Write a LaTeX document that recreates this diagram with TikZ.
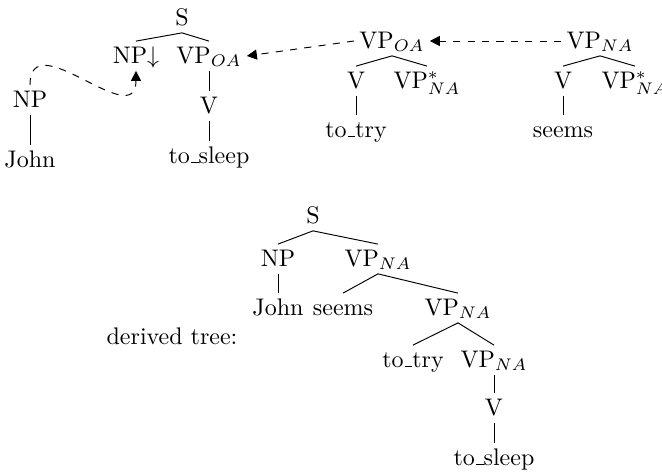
\documentclass[tikz,border=0pt]{standalone}
\usetikzlibrary{arrows.meta}
\newcommand{\usc}{\leavevmode\kern.06em\vbox{\hrule width.3em}}
\begin{document}
\begin{tikzpicture}[x=0.4167pt,y=-0.4167pt,
  lbl/.style={inner sep=2pt, text height=7pt, text depth=1pt},
  subst/.style={dashed, -{Triangle[length=4.2pt,width=4.2pt]}}]
\useasboundingbox (0,0) rectangle (662,473);
\node[lbl] (s0) at (182,18){S};
\node[lbl] (npd) at (136,56){NP$\downarrow$};
\node[lbl] (vpoa0) at (209,56){VP$_{OA}$};
\node[lbl] (v0) at (209,106){V};
\node[lbl] (sleep0) at (209,156){to\usc sleep};
\draw[](s0.south) -- (npd.north);
\draw[](s0.south) -- (vpoa0.north);
\draw[](vpoa0.south) -- (v0.north);
\draw[](v0.south) -- (sleep0.north);
\node[lbl] (np0) at (30,100){NP};
\node[lbl] (john0) at (30,160){John};
\draw[](np0.south) -- (john0.north);
\node[lbl] (vpoa1) at (392,41){VP$_{OA}$};
\node[lbl] (v1) at (356,81){V};
\node[lbl] (vpf1) at (427,81){VP$^*_{NA}$};
\node[lbl] (try1) at (356,130){to\usc try};
\draw[](vpoa1.south) -- (v1.north);
\draw[](vpoa1.south) -- (vpf1.north);
\draw[](v1.south) -- (try1.north);
\node[lbl] (vpna2) at (600,41){VP$_{NA}$};
\node[lbl] (v2) at (563,81){V};
\node[lbl] (vpf2) at (635,81){VP$^*_{NA}$};
\node[lbl] (seems2) at (563,130){seems};
\draw[](vpna2.south) -- (v2.north);
\draw[](vpna2.south) -- (vpf2.north);
\draw[](v2.south) -- (seems2.north);
\draw[subst](np0.north) to[out=90, in=-90, looseness=1.5] (npd.south);
\draw[subst](vpoa1.west) -- (vpoa0.east);
\draw[subst](vpna2.west) -- (vpoa1.east);

\node[lbl] (s3) at (313,216){S};
\node[lbl] (np3) at (278,259){NP};
\node[lbl] (vpna3) at (378,259){VP$_{NA}$};
\node[lbl] (john3) at (278,308){John};
\node[lbl] (seems3) at (343,308){seems};
\node[lbl] (vpna4) at (458,308){VP$_{NA}$};
\node[lbl] (try4) at (413,360){to\usc try};
\node[lbl] (vpna5) at (494,360){VP$_{NA}$};
\node[lbl] (v5) at (494,408){V};
\node[lbl] (sleep5) at (494,458){to\usc sleep};
\node[lbl] (derived) at (172,337){derived tree:};
\draw[](s3.south) -- (np3.north);
\draw[](s3.south) -- (vpna3.north);
\draw[](np3.south) -- (john3.north);
\draw[](vpna3.south) -- (seems3.north);
\draw[](vpna3.south) -- (vpna4.north);
\draw[](vpna4.south) -- (try4.north);
\draw[](vpna4.south) -- (vpna5.north);
\draw[](vpna5.south) -- (v5.north);
\draw[](v5.south) -- (sleep5.north);

\end{tikzpicture}
\end{document}
